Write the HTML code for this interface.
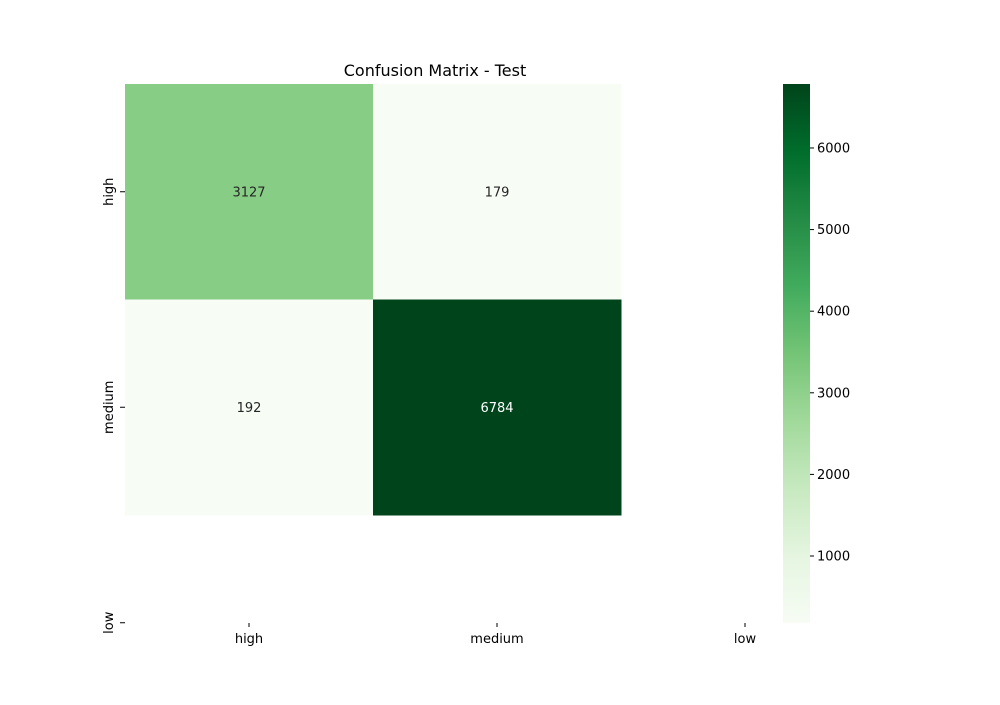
<!DOCTYPE html>
<html><head><meta charset="utf-8"><style>
body{margin:0;background:#fff;font-family:"Liberation Sans","DejaVu Sans",sans-serif}
svg text{font-family:"DejaVu Sans","Liberation Sans",sans-serif}
</style></head><body>
<svg id="chart" width="1000" height="700" xmlns="http://www.w3.org/2000/svg">
<defs><linearGradient id="greens" x1="0" y1="1" x2="0" y2="0">
<stop offset="0" stop-color="#f7fcf5"/><stop offset="0.125" stop-color="#e5f5e0"/><stop offset="0.25" stop-color="#c7e9c0"/><stop offset="0.375" stop-color="#a1d99b"/><stop offset="0.5" stop-color="#74c476"/><stop offset="0.625" stop-color="#41ab5d"/><stop offset="0.75" stop-color="#238b45"/><stop offset="0.875" stop-color="#006d2c"/><stop offset="1" stop-color="#00441b"/>
</linearGradient></defs>
<text x="435" y="76" text-anchor="middle" font-size="16">Confusion Matrix - Test</text>
<g id="cells"></g><g id="axes"></g><g id="cbar"></g>
</svg>
<script>
const labels = ["high","medium","low"];
const rowHigh = [3127, 179];
const rowMedium = [192, 6784];
const cbTicks = [1000,2000,3000,4000,5000,6000];
const matrix = [rowHigh, rowMedium];
const vmin = 179, vmax = 6784;
const x0=125, cw=248, y0=84, ch=215.5;
const stops=[[247,252,245],[229,245,224],[199,233,192],[161,217,155],[116,196,118],[65,171,93],[35,139,69],[0,109,44],[0,68,27]];
function color(v){let t=Math.max(0,Math.min(1,(v-vmin)/(vmax-vmin)))*8;let i=Math.min(7,Math.floor(t)),f=t-i;
 const c=stops[i].map((a,k)=>Math.round(a+(stops[i+1][k]-a)*f));return `rgb(${c})`;}
const NS="http://www.w3.org/2000/svg";
function mk(p,tag,at){const e=document.createElementNS(NS,tag);for(const k in at)e.setAttribute(k,at[k]);p.appendChild(e);return e;}
const cells=document.getElementById('cells'),axes=document.getElementById('axes'),cb=document.getElementById('cbar');
matrix.forEach((row,r)=>row.forEach((v,c)=>{
 const rc=mk(cells,'rect',{x:x0+c*cw,y:y0+r*ch,width:cw+0.5,height:ch+0.5,fill:color(v)});
 
 
 const t=mk(cells,'text',{x:x0+c*cw+cw/2,y:y0+r*ch+ch/2+4.5,'text-anchor':'middle','font-size':13,fill:(v-vmin)/(vmax-vmin)>0.5?'#fff':'#262626'});
 t.textContent=v;
 
 
}));
labels.forEach((l,i)=>{
 const x=x0+cw*i+cw/2;
 mk(axes,'line',{x1:x,x2:x,y1:623,y2:627,stroke:'#000'});
 const t=mk(axes,'text',{x:x,y:643,'text-anchor':'middle','font-size':13});t.textContent=l;
 
 
 const y=y0+ch*i+ch/2;
 mk(axes,'line',{x1:120,x2:125,y1:y,y2:y,stroke:'#000'});
 const ty=mk(axes,'text',{x:113,y:y,'text-anchor':'middle','font-size':13,transform:`rotate(-90 113 ${y})`});ty.textContent=l;
 
 
});
const cbx=783,cbw=27,cby=84,cbh=539;
const bar=mk(cb,'rect',{x:cbx,y:cby,width:cbw,height:cbh,fill:'url(#greens)'});


cbTicks.forEach(v=>{
 const y=cby+cbh-(v-vmin)/(vmax-vmin)*cbh;
 mk(cb,'line',{x1:cbx+cbw,x2:cbx+cbw+4,y1:y,y2:y,stroke:'#000'});
 const t=mk(cb,'text',{x:cbx+cbw+7,y:y+4.5,'font-size':13});t.textContent=v;
 
 
});
</script>
</body></html>
